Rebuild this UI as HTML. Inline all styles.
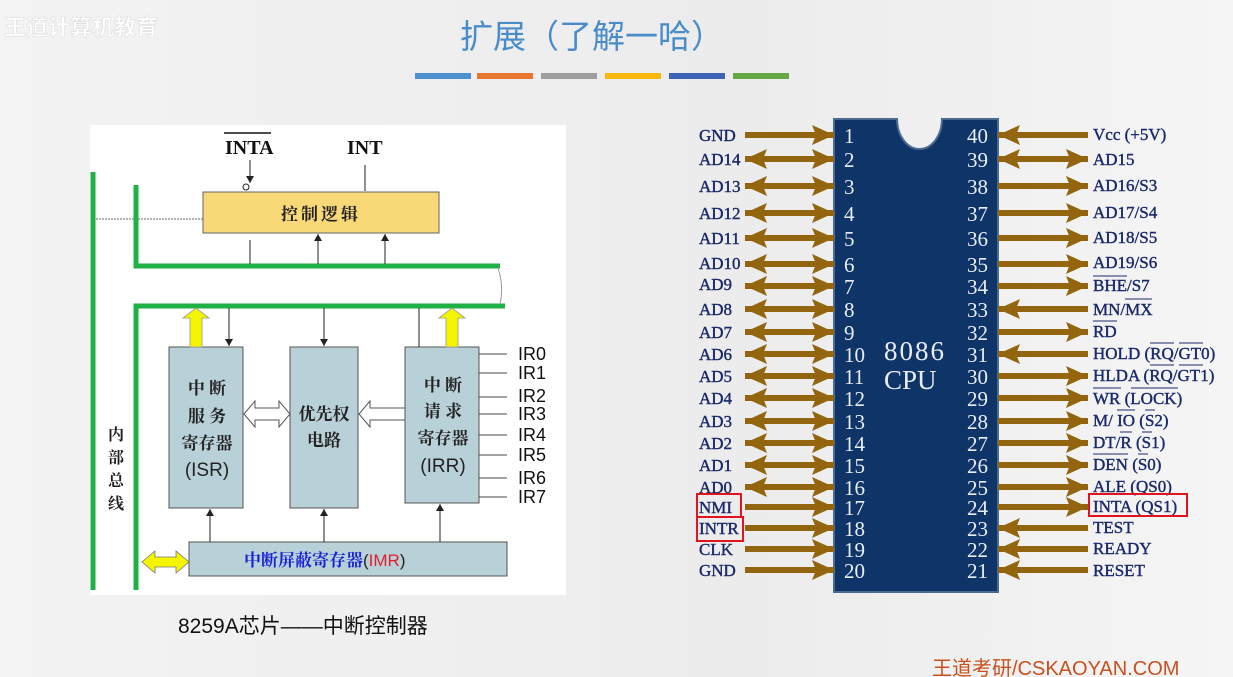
<!DOCTYPE html>
<html><head><meta charset="utf-8"><style>
html,body{margin:0;padding:0;}
body{width:1233px;height:677px;overflow:hidden;background:linear-gradient(90deg,#f3f3f3,#ececec 60%,#f5f5f5);}
svg{display:block}
.cn{font-family:"Liberation Sans","Noto Sans CJK SC",sans-serif;}
.kai{font-family:"Noto Serif CJK SC","Liberation Serif",serif;font-weight:bold;}
.pl{font-family:"Liberation Serif","Noto Serif CJK SC",serif;font-size:17px;fill:#1b2a6b;stroke:#1b2a6b;stroke-width:0.4;}
.pn{font-family:"Liberation Serif",serif;font-size:21px;fill:#e8eef6;}
</style></head><body>
<svg width="1233" height="677" viewBox="0 0 1233 677" xmlns="http://www.w3.org/2000/svg">
<defs>
<marker id="ah" markerUnits="userSpaceOnUse" markerWidth="24" markerHeight="20" refX="22" refY="10" orient="auto-start-reverse">
<path d="M0,0 L22,10 L0,20 L4,10 Z" fill="#94650f"/>
</marker>
<marker id="sa" markerUnits="userSpaceOnUse" markerWidth="8" markerHeight="8" refX="7" refY="4" orient="auto">
<path d="M0,0 L7,4 L0,8 Z" fill="#222"/>
</marker>
</defs>
<!-- header -->
<text x="4" y="35" class="cn" font-size="22" font-weight="bold" fill="#ffffff" stroke="#dcdcdc" stroke-width="0.6">王道计算机教育</text>
<text x="460" y="48" class="cn" font-size="33" fill="#4a8cc9">扩展（了解一哈）</text>
<rect x="415" y="73" width="56" height="6" fill="#4e8fcf"/>
<rect x="477" y="73" width="56" height="6" fill="#e8762f"/>
<rect x="541" y="73" width="56" height="6" fill="#9e9e9e"/>
<rect x="605" y="73" width="56" height="6" fill="#f8b80f"/>
<rect x="669" y="73" width="56" height="6" fill="#3f63b5"/>
<rect x="733" y="73" width="56" height="6" fill="#63a844"/>

<!-- left diagram -->
<rect x="90" y="125" width="476" height="470" fill="#ffffff"/>
<text x="225" y="154" font-family="Liberation Serif" font-weight="bold" font-size="20" fill="#111">INTA</text>
<line x1="224" y1="133" x2="271" y2="133" stroke="#111" stroke-width="1.5"/>
<text x="347" y="154" font-family="Liberation Serif" font-weight="bold" font-size="20" fill="#111">INT</text>
<line x1="250" y1="160" x2="250" y2="183" stroke="#222" stroke-width="1" marker-end="url(#sa)"/>
<circle cx="246" cy="187" r="3" fill="#fff" stroke="#222"/>
<line x1="365" y1="165" x2="365" y2="191" stroke="#222" stroke-width="1"/>
<rect x="203" y="192" width="236" height="41" fill="#f8d877" stroke="#666" stroke-width="1"/>
<text x="321" y="220" text-anchor="middle" class="kai" font-size="17" fill="#222" letter-spacing="3">控制逻辑</text>
<line x1="93" y1="219" x2="203" y2="219" stroke="#666" stroke-width="1" stroke-dasharray="2,1"/>
<!-- green bus -->
<path d="M93,172 V590" stroke="#1fb046" stroke-width="5" fill="none"/>
<path d="M136,185 V266 H500" stroke="#1fb046" stroke-width="5" fill="none"/>
<path d="M505,306 H136 V590" stroke="#1fb046" stroke-width="5" fill="none"/>
<path d="M498,268 Q504,286 500,304" stroke="#999" stroke-width="1" fill="none"/>
<line x1="250" y1="240" x2="250" y2="264" stroke="#222" stroke-width="1"/>
<line x1="318" y1="264" x2="318" y2="234" stroke="#222" stroke-width="1" marker-end="url(#sa)"/>
<line x1="385" y1="264" x2="385" y2="234" stroke="#222" stroke-width="1" marker-end="url(#sa)"/>
<text x="116" y="440" class="kai" font-size="16" fill="#222" text-anchor="middle"><tspan x="116" dy="0">内</tspan><tspan x="116" dy="23">部</tspan><tspan x="116" dy="23">总</tspan><tspan x="116" dy="23">线</tspan></text>
<!-- boxes -->
<rect x="169" y="347" width="74" height="161" fill="#b8d0d8" stroke="#555"/>
<rect x="290" y="347" width="68" height="161" fill="#b8d0d8" stroke="#555"/>
<rect x="405" y="347" width="74" height="156" fill="#b8d0d8" stroke="#555"/>
<rect x="189" y="542" width="318" height="34" fill="#b8d0d8" stroke="#555"/>
<text class="kai" font-size="17" fill="#222" text-anchor="middle"><tspan x="207" y="394">中 断</tspan><tspan x="207" y="422">服 务</tspan><tspan x="207" y="449">寄存器</tspan></text>
<text x="207" y="476" class="cn" font-size="19" fill="#222" text-anchor="middle">(ISR)</text>
<text class="kai" font-size="17" fill="#222" text-anchor="middle"><tspan x="324" y="420">优先权</tspan><tspan x="324" y="446">电路</tspan></text>
<text class="kai" font-size="17" fill="#222" text-anchor="middle"><tspan x="443" y="391">中 断</tspan><tspan x="443" y="417">请 求</tspan><tspan x="443" y="444">寄存器</tspan></text>
<text x="443" y="472" class="cn" font-size="19" fill="#222" text-anchor="middle">(IRR)</text>
<text x="244" y="566" class="kai" font-size="17" fill="#1a22d8">中断屏蔽寄存器<tspan class="cn" font-weight="normal" fill="#222">(</tspan><tspan class="cn" font-weight="normal" fill="#e0202a">IMR</tspan><tspan class="cn" font-weight="normal" fill="#222">)</tspan></text>
<!-- yellow up arrows -->
<path d="M190,347 V318 H183 L196,308 L209,318 H202 V347 Z" fill="#f5f500" stroke="#999" stroke-width="0.8"/>
<path d="M446,347 V318 H439 L452,308 L465,318 H458 V347 Z" fill="#f5f500" stroke="#999" stroke-width="0.8"/>
<line x1="229" y1="308" x2="229" y2="346" stroke="#222" stroke-width="1" marker-end="url(#sa)"/>
<line x1="324" y1="308" x2="324" y2="346" stroke="#222" stroke-width="1" marker-end="url(#sa)"/>
<line x1="419" y1="308" x2="419" y2="347" stroke="#222" stroke-width="1"/>
<line x1="210" y1="542" x2="210" y2="509" stroke="#222" stroke-width="1" marker-end="url(#sa)"/>
<line x1="324" y1="542" x2="324" y2="509" stroke="#222" stroke-width="1" marker-end="url(#sa)"/>
<line x1="440" y1="542" x2="440" y2="504" stroke="#222" stroke-width="1" marker-end="url(#sa)"/>
<!-- hollow arrows -->
<path d="M244,414 L255,401 V408 H279 V401 L290,414 L279,427 V420 H255 V427 Z" fill="#fff" stroke="#555"/>
<path d="M359,414 L370,401 V408 H405 V420 H370 V427 Z" fill="#fff" stroke="#555"/>
<!-- yellow double arrow -->
<path d="M142,562 L155,551 V557 H176 V551 L189,562 L176,573 V567 H155 V573 Z" fill="#f5f500" stroke="#777" stroke-width="0.8"/>
<!-- IR lines -->
<g stroke="#444" stroke-width="1">
<line x1="479" y1="354" x2="507" y2="354"/><line x1="479" y1="373" x2="507" y2="373"/>
<line x1="479" y1="397" x2="507" y2="397"/><line x1="479" y1="414" x2="507" y2="414"/>
<line x1="479" y1="435" x2="507" y2="435"/><line x1="479" y1="455" x2="507" y2="455"/>
<line x1="479" y1="478" x2="507" y2="478"/><line x1="479" y1="497" x2="507" y2="497"/>
</g>
<g class="cn" font-size="18" fill="#111">
<text x="518" y="360">IR0</text><text x="518" y="379">IR1</text><text x="518" y="402">IR2</text><text x="518" y="420">IR3</text>
<text x="518" y="441">IR4</text><text x="518" y="461">IR5</text><text x="518" y="484">IR6</text><text x="518" y="503">IR7</text>
</g>
<text x="178" y="633" class="cn" font-size="21" fill="#111">8259A芯片——中断控制器</text>

<!-- chip -->
<path d="M834,119 H897 A22.5,30 0 0 0 942,119 H998 V592 H834 Z" fill="#0f3468" stroke="#4a6a90" stroke-width="2"/>
<text x="884" y="360" font-family="Liberation Serif" font-size="27" fill="#e8eef6" letter-spacing="2">8086</text>
<text x="884" y="389" font-family="Liberation Serif" font-size="27" fill="#e8eef6">CPU</text>
<!-- left arrows -->
<g stroke="#94650f" stroke-width="6" fill="none">
<line x1="745" y1="135" x2="834" y2="135" marker-end="url(#ah)"/>
<line x1="745" y1="159" x2="834" y2="159" marker-end="url(#ah)" marker-start="url(#ah)"/>
<line x1="745" y1="186" x2="834" y2="186" marker-end="url(#ah)" marker-start="url(#ah)"/>
<line x1="745" y1="213" x2="834" y2="213" marker-end="url(#ah)" marker-start="url(#ah)"/>
<line x1="745" y1="238" x2="834" y2="238" marker-end="url(#ah)" marker-start="url(#ah)"/>
<line x1="745" y1="264" x2="834" y2="264" marker-end="url(#ah)" marker-start="url(#ah)"/>
<line x1="745" y1="286" x2="834" y2="286" marker-end="url(#ah)" marker-start="url(#ah)"/>
<line x1="745" y1="309" x2="834" y2="309" marker-end="url(#ah)" marker-start="url(#ah)"/>
<line x1="745" y1="332" x2="834" y2="332" marker-end="url(#ah)" marker-start="url(#ah)"/>
<line x1="745" y1="354" x2="834" y2="354" marker-end="url(#ah)" marker-start="url(#ah)"/>
<line x1="745" y1="376" x2="834" y2="376" marker-end="url(#ah)" marker-start="url(#ah)"/>
<line x1="745" y1="398" x2="834" y2="398" marker-end="url(#ah)" marker-start="url(#ah)"/>
<line x1="745" y1="421" x2="834" y2="421" marker-end="url(#ah)" marker-start="url(#ah)"/>
<line x1="745" y1="443" x2="834" y2="443" marker-end="url(#ah)" marker-start="url(#ah)"/>
<line x1="745" y1="465" x2="834" y2="465" marker-end="url(#ah)" marker-start="url(#ah)"/>
<line x1="745" y1="487" x2="834" y2="487" marker-end="url(#ah)" marker-start="url(#ah)"/>
<line x1="745" y1="507" x2="834" y2="507" marker-end="url(#ah)"/>
<line x1="745" y1="528" x2="834" y2="528" marker-end="url(#ah)"/>
<line x1="745" y1="549" x2="834" y2="549" marker-end="url(#ah)"/>
<line x1="745" y1="570" x2="834" y2="570" marker-end="url(#ah)"/>
<!-- right arrows -->
<line x1="1088" y1="135" x2="998" y2="135" marker-end="url(#ah)"/>
<line x1="998" y1="159" x2="1088" y2="159" marker-end="url(#ah)" marker-start="url(#ah)"/>
<line x1="998" y1="186" x2="1088" y2="186" marker-end="url(#ah)"/>
<line x1="998" y1="213" x2="1088" y2="213" marker-end="url(#ah)"/>
<line x1="998" y1="238" x2="1088" y2="238" marker-end="url(#ah)"/>
<line x1="998" y1="264" x2="1088" y2="264" marker-end="url(#ah)"/>
<line x1="998" y1="286" x2="1088" y2="286" marker-end="url(#ah)"/>
<line x1="1088" y1="309" x2="998" y2="309" marker-end="url(#ah)"/>
<line x1="998" y1="332" x2="1088" y2="332" marker-end="url(#ah)"/>
<line x1="1088" y1="354" x2="998" y2="354" marker-end="url(#ah)"/>
<line x1="998" y1="376" x2="1088" y2="376" marker-end="url(#ah)"/>
<line x1="998" y1="398" x2="1088" y2="398" marker-end="url(#ah)"/>
<line x1="998" y1="421" x2="1088" y2="421" marker-end="url(#ah)"/>
<line x1="998" y1="443" x2="1088" y2="443" marker-end="url(#ah)"/>
<line x1="998" y1="465" x2="1088" y2="465" marker-end="url(#ah)"/>
<line x1="998" y1="487" x2="1088" y2="487" marker-end="url(#ah)"/>
<line x1="998" y1="507" x2="1088" y2="507" marker-end="url(#ah)"/>
<line x1="1088" y1="528" x2="998" y2="528" marker-end="url(#ah)"/>
<line x1="1088" y1="549" x2="998" y2="549" marker-end="url(#ah)"/>
<line x1="1088" y1="570" x2="998" y2="570" marker-end="url(#ah)"/>
</g>
<!-- pin numbers -->
<g class="pn">
<text x="844" y="143">1</text><text x="844" y="167">2</text><text x="844" y="194">3</text><text x="844" y="221">4</text><text x="844" y="246">5</text>
<text x="844" y="272">6</text><text x="844" y="294">7</text><text x="844" y="317">8</text><text x="844" y="340">9</text><text x="844" y="362">10</text>
<text x="844" y="384">11</text><text x="844" y="406">12</text><text x="844" y="429">13</text><text x="844" y="451">14</text><text x="844" y="473">15</text>
<text x="844" y="495">16</text><text x="844" y="515">17</text><text x="844" y="536">18</text><text x="844" y="557">19</text><text x="844" y="578">20</text>
</g>
<g class="pn" text-anchor="end">
<text x="988" y="143">40</text><text x="988" y="167">39</text><text x="988" y="194">38</text><text x="988" y="221">37</text><text x="988" y="246">36</text>
<text x="988" y="272">35</text><text x="988" y="294">34</text><text x="988" y="317">33</text><text x="988" y="340">32</text><text x="988" y="362">31</text>
<text x="988" y="384">30</text><text x="988" y="406">29</text><text x="988" y="429">28</text><text x="988" y="451">27</text><text x="988" y="473">26</text>
<text x="988" y="495">25</text><text x="988" y="515">24</text><text x="988" y="536">23</text><text x="988" y="557">22</text><text x="988" y="578">21</text>
</g>
<!-- left labels -->
<g class="pl">
<text x="699" y="141">GND</text><text x="699" y="165">AD14</text><text x="699" y="192">AD13</text><text x="699" y="219">AD12</text><text x="699" y="244">AD11</text>
<text x="699" y="269">AD10</text><text x="699" y="290">AD9</text><text x="699" y="315">AD8</text><text x="699" y="338">AD7</text><text x="699" y="360">AD6</text>
<text x="699" y="382">AD5</text><text x="699" y="404">AD4</text><text x="699" y="427">AD3</text><text x="699" y="449">AD2</text><text x="699" y="471">AD1</text>
<text x="699" y="493">AD0</text><text x="699" y="513">NMI</text><text x="699" y="534">INTR</text><text x="699" y="555">CLK</text><text x="699" y="576">GND</text>
</g>
<!-- right labels -->
<g class="pl">
<text x="1093" y="140">Vcc (+5V)</text><text x="1093" y="165">AD15</text><text x="1093" y="191">AD16/S3</text><text x="1093" y="218">AD17/S4</text><text x="1093" y="243">AD18/S5</text>
<text x="1093" y="268">AD19/S6</text><text x="1093" y="291">BHE/S7</text><text x="1093" y="315">MN/MX</text><text x="1093" y="337">RD</text><text x="1093" y="359">HOLD (RQ/GT0)</text>
<text x="1093" y="381">HLDA (RQ/GT1)</text><text x="1093" y="404">WR (LOCK)</text><text x="1093" y="426">M/ IO (S2)</text><text x="1093" y="448">DT/R (S1)</text><text x="1093" y="470">DEN (S0)</text>
<text x="1093" y="492">ALE (QS0)</text><text x="1093" y="512">INTA (QS1)</text><text x="1093" y="533">TEST</text><text x="1093" y="554">READY</text><text x="1093" y="576">RESET</text>
</g>
<!-- overbars -->
<g stroke="#1b2a6b" stroke-width="1">
<line x1="1093" y1="276" x2="1127" y2="276"/><line x1="1125" y1="299" x2="1152" y2="299"/><line x1="1093" y1="321" x2="1117" y2="321"/>
<line x1="1150" y1="343" x2="1174" y2="343"/><line x1="1179" y1="343" x2="1203" y2="343"/>
<line x1="1150" y1="365" x2="1174" y2="365"/><line x1="1179" y1="365" x2="1203" y2="365"/>
<line x1="1093" y1="388" x2="1121" y2="388"/><line x1="1131" y1="388" x2="1178" y2="388"/>
<line x1="1117" y1="410" x2="1135" y2="410"/><line x1="1145" y1="410" x2="1155" y2="410"/>
<line x1="1120" y1="432" x2="1132" y2="432"/><line x1="1142" y1="432" x2="1152" y2="432"/>
<line x1="1093" y1="454" x2="1128" y2="454"/><line x1="1138" y1="454" x2="1148" y2="454"/>
</g>
<!-- red boxes -->
<g fill="none" stroke="#e0141e" stroke-width="2">
<rect x="697" y="494" width="44" height="23"/>
<rect x="697" y="517" width="46" height="24"/>
<rect x="1089" y="494" width="98" height="22"/>
</g>
<text x="932" y="675" class="cn" font-size="20" fill="#c8501f">王道考研/CSKAOYAN.COM</text>
</svg>
</body></html>
